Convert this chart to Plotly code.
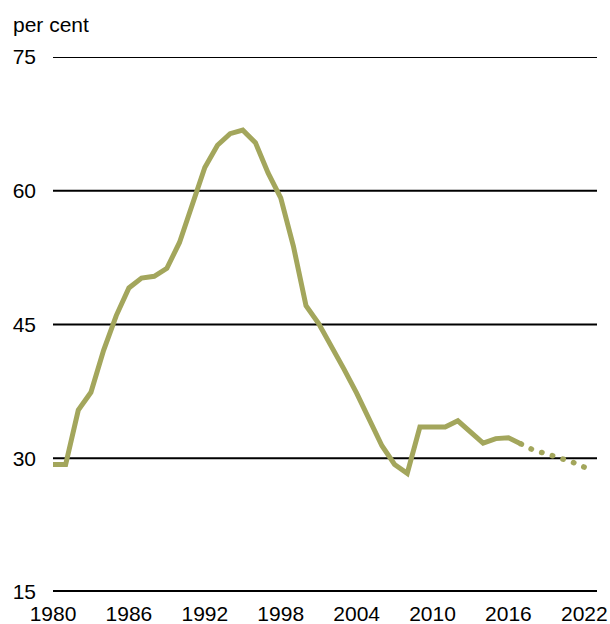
import plotly.graph_objects as go

# Actual ratio, per cent
years = list(range(1980, 2018))
ratio = [29.3, 29.3, 35.4, 37.4, 42.1, 46.0, 49.1, 50.2, 50.4, 51.3,
         54.2, 58.4, 62.6, 65.1, 66.4, 66.8, 65.4, 62.0, 59.2, 53.8,
         47.1, 45.1, 42.6, 40.0, 37.3, 34.2, 31.4, 29.3, 28.3, 33.5,
         33.5, 33.5, 34.2, 32.9, 31.7, 32.2, 32.3, 31.6]

# Projection, starting from the last actual year
proj_years = [2017, 2018, 2019, 2020, 2021, 2022]
proj_ratio = [31.6, 30.9, 30.5, 30.1, 29.6, 29.0]

x_ticks = [1980, 1986, 1992, 1998, 2004, 2010, 2016, 2022]
y_ticks = [15, 30, 45, 60, 75]
Y_MIN, Y_MAX = 15, 75

OLIVE = "#a3a65c"
FONT = "Liberation Sans, Arial, sans-serif"

fig = go.Figure()
fig.add_trace(go.Scatter(x=years, y=ratio, mode="lines", name="actual",
                         line=dict(color=OLIVE, width=5), showlegend=False,
                         hoverinfo="skip", cliponaxis=False))
fig.add_trace(go.Scatter(x=proj_years, y=proj_ratio, mode="lines", name="projection",
                         line=dict(color=OLIVE, width=5.5, dash="5px,6px"),
                         showlegend=False, hoverinfo="skip", cliponaxis=False))

# horizontal rules at each value tick; the bottom one is heavier
for v in y_ticks:
    fig.add_shape(type="line", xref="paper", yref="y", x0=0, x1=1, y0=v, y1=v,
                  line=dict(color="black", width=4 if v == Y_MIN else 2),
                  layer="below")

fig.add_annotation(text="per cent", xref="paper", yref="paper",
                   x=-42 / 544, y=1 + 32 / 535, xanchor="left", yanchor="middle",
                   showarrow=False, font=dict(size=21, color="black", family=FONT))

fig.update_layout(
    width=610, height=624,
    margin=dict(l=53, r=13, t=57, b=32, autoexpand=False),
    paper_bgcolor="white", plot_bgcolor="white",
    font=dict(family=FONT, size=21, color="black"),
    xaxis=dict(range=[1980, 2023], tickvals=x_ticks, showgrid=False,
               zeroline=False, showline=False, ticks="", automargin=False,
               ticklabelstandoff=7),
    yaxis=dict(range=[Y_MIN, Y_MAX], tickvals=y_ticks, showgrid=False,
               zeroline=False, showline=False, ticks="", automargin=False,
               ticklabelstandoff=16),
)

# round dots for the projected segment
post = """
var gd = document.getElementById('{plot_id}');
var traces = gd.querySelectorAll('.scatterlayer .trace');
if (traces.length > 1) {
  traces[1].querySelectorAll('path.js-line').forEach(function (p) {
    p.style.strokeLinecap = 'round';
    p.style.strokeDasharray = '0.4px,10.75px';
  });
}
"""

fig.write_html("out.html", post_script=post)
